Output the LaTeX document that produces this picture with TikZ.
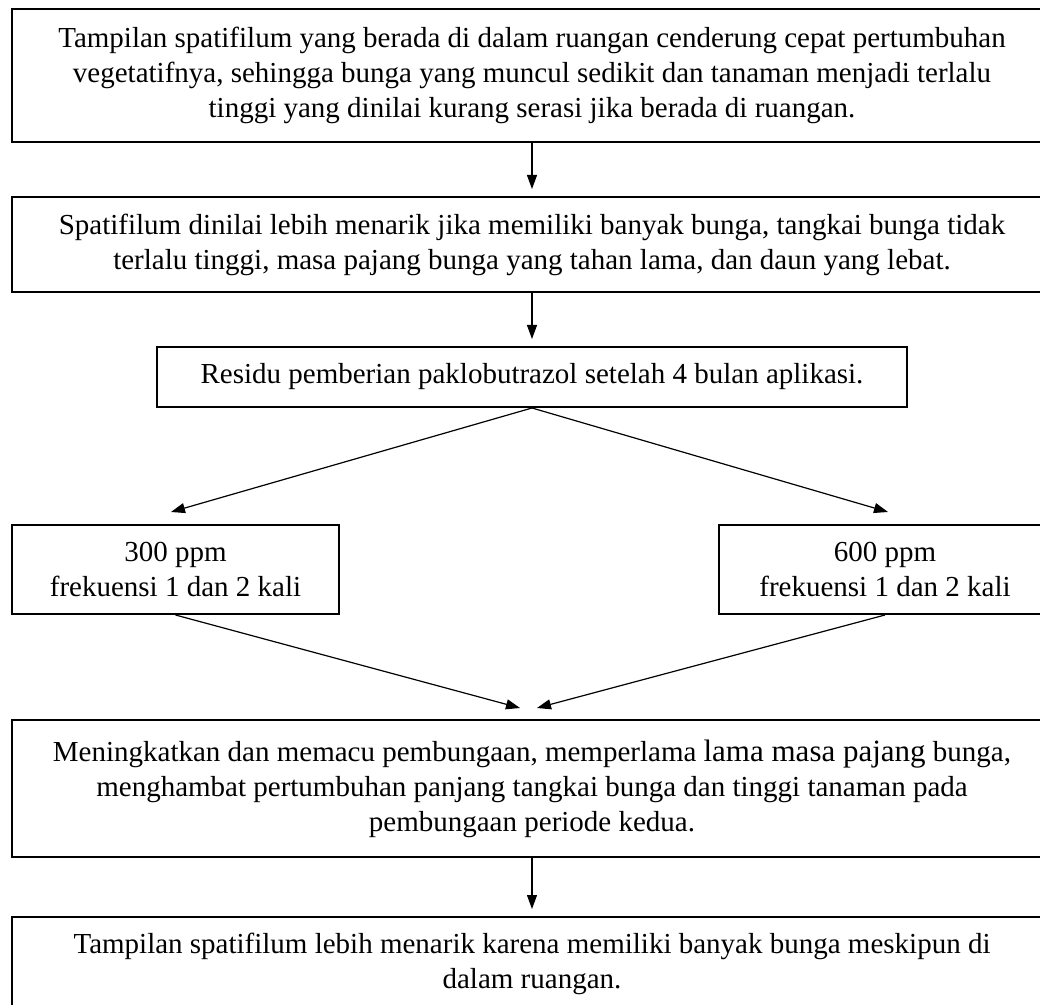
\documentclass[tikz,border=0pt]{standalone}
\usepackage{fontspec}
\setmainfont{Liberation Serif}
\usetikzlibrary{arrows.meta}

\begin{document}
\begin{tikzpicture}[x=0.5pt,y=0.5pt,yscale=-1,xscale=1,
  kotak/.style={draw,line width=1pt,align=center,inner sep=0pt,font=\fontsize{14.5}{17.5}\selectfont},
  panah/.style={line width=0.6pt,-{Triangle[length=7pt,width=5pt]}}]
\useasboundingbox (0,0) rectangle (1040,1005);

% Text Node
\node [kotak, minimum width=520pt, minimum height=66.5pt] (awal) at (532,75.5) {Tampilan spatifilum yang berada di dalam ruangan cenderung cepat pertumbuhan\\ vegetatifnya, sehingga bunga yang muncul sedikit dan tanaman menjadi terlalu\\ tinggi yang dinilai kurang serasi jika berada di ruangan.};
% Text Node
\node [kotak, minimum width=520pt, minimum height=47.5pt] (nilai) at (532,244.5) {Spatifilum dinilai lebih menarik jika memiliki banyak bunga, tangkai bunga tidak\\ terlalu tinggi, masa pajang bunga yang tahan lama, dan daun yang lebat.};
% Text Node
\node [kotak, minimum width=375pt, minimum height=30pt] (residu) at (532,377) {Residu pemberian paklobutrazol setelah 4 bulan aplikasi.};
% Text Node
\node [kotak, minimum width=163.5pt, minimum height=44.5pt] (ppmA) at (175.5,569.5) {300 ppm\\ frekuensi 1 dan 2 kali};
% Text Node
\node [kotak, minimum width=166pt, minimum height=44.5pt] (ppmB) at (885,569.5) {600 ppm\\ frekuensi 1 dan 2 kali};
% Text Node
\node [kotak, minimum width=520pt, minimum height=68.5pt] (hasil) at (532,788.5) {Meningkatkan dan memacu pembungaan, memperlama {\fontsize{15.5}{17.5}\selectfont lama masa pajang} bunga,\\ menghambat pertumbuhan panjang tangkai bunga dan tinggi tanaman pada\\ pembungaan periode kedua.};
% Text Node
\node [kotak, minimum width=520pt, minimum height=47pt] (akhir) at (532,964) {Tampilan spatifilum lebih menarik karena memiliki banyak bunga meskipun di\\ dalam ruangan.};

% free ends of the arrows
\coordinate (kiri) at (171,512);
\coordinate (kanan) at (888,512);
\coordinate (masukA) at (520,708);
\coordinate (masukB) at (537,708);

%Straight Lines
\draw [panah, shorten >=3.5pt] (awal) -- (nilai);
\draw [panah, shorten >=3.5pt] (nilai) -- (residu);
\draw [panah] (residu.south) -- (kiri);
\draw [panah] (residu.south) -- (kanan);
\draw [panah] (ppmA.south) -- (masukA);
\draw [panah] (ppmB.south) -- (masukB);
\draw [panah, shorten >=3.5pt] (hasil) -- (akhir);

\end{tikzpicture}
\end{document}
